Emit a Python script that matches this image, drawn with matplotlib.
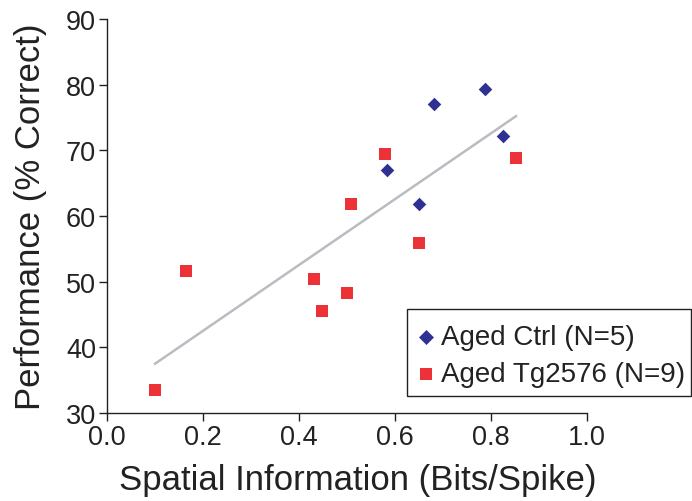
import matplotlib
matplotlib.use("Agg")
import matplotlib.pyplot as plt
from matplotlib.font_manager import FontProperties
from matplotlib.patches import Rectangle

ctrl_x = [0.584, 0.681, 0.787, 0.824, 0.649]
ctrl_y = [67.0, 77.0, 79.4, 72.2, 61.8]
tg_x = [0.101, 0.165, 0.432, 0.448, 0.500, 0.508, 0.579, 0.650, 0.852]
tg_y = [33.5, 51.6, 50.4, 45.5, 48.3, 61.9, 69.4, 55.9, 68.9]
trend_x = [0.100, 0.852]
trend_y = [37.5, 75.2]
xticks = [0.0, 0.2, 0.4, 0.6, 0.8, 1.0]
xtick_labels = ["0.0", "0.2", "0.4", "0.6", "0.8", "1.0"]
yticks = [30, 40, 50, 60, 70, 80, 90]
ytick_labels = ["30", "40", "50", "60", "70", "80", "90"]
labels = ["Aged Ctrl (N=5)", "Aged Tg2576 (N=9)"]

fam = "Liberation Sans"
txt = "#222222"
W, H = 692, 502

fig = plt.figure(figsize=(6.92, 5.02), dpi=100)
ax = fig.add_axes([107/W, 1-414/H, 480/W, 394/H])

ax.plot(trend_x, trend_y, color="#b9bcc0", lw=1.8, zorder=1)
ax.scatter(ctrl_x, ctrl_y, marker="D", s=48, color="#2e3192", linewidths=0, label=labels[0], zorder=3)
ax.scatter(tg_x, tg_y, marker="s", s=66, color="#ed3237", linewidths=0, label=labels[1], zorder=3)

ax.set_xlim(0, 1.0)
ax.set_ylim(30, 90)
ax.set_xticks(xticks)
ax.set_xticklabels(xtick_labels)
ax.set_yticks(yticks)
ax.set_yticklabels(ytick_labels)
for s in ["top", "right"]:
    ax.spines[s].set_visible(False)
for s in ["left", "bottom"]:
    ax.spines[s].set_linewidth(1.0)
    ax.spines[s].set_color(txt)
ax.tick_params(direction="out", length=6, width=1.0, color=txt, labelsize=19.5, pad=2)
for t in ax.get_xticklabels() + ax.get_yticklabels():
    t.set_fontfamily(fam)
    t.set_color(txt)

ax.set_xlabel("Spatial Information (Bits/Spike)", fontsize=25, family=fam, color=txt)
ax.xaxis.label.set_va("baseline")
ax.xaxis.set_label_coords((357.5-107)/480, (414-490)/394)
ax.set_ylabel("Performance (% Correct)", fontsize=25, family=fam, color=txt)
ax.yaxis.set_label_coords((47-107)/480, 0.5)

leg = fig.legend(loc="upper left", bbox_to_anchor=(413/W, 1-325/H), frameon=False,
                 prop=FontProperties(family=fam, size=20), handletextpad=0.1,
                 borderpad=0, labelspacing=0.4, handlelength=0.9, borderaxespad=0,
                 markerscale=1.1)
for t in leg.get_texts():
    t.set_color(txt)
fig.add_artist(Rectangle((407/W, 1-397/H), 284/W, 87/H, transform=fig.transFigure,
                         fill=False, edgecolor=txt, linewidth=1.0))

fig.savefig("out.png", dpi=100)
